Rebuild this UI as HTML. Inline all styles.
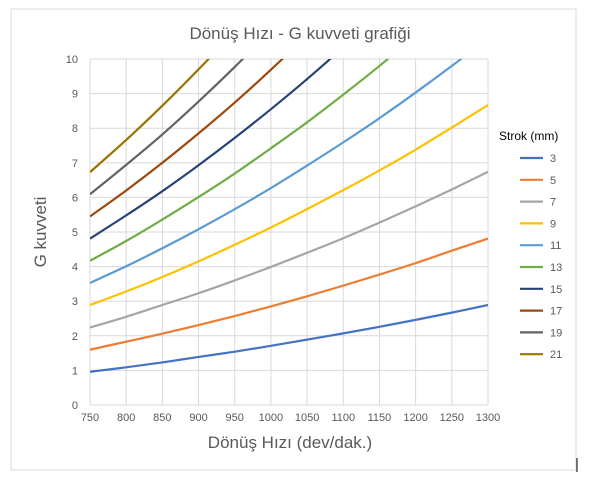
<!DOCTYPE html>
<html><head><meta charset="utf-8"><style>
body{margin:0;background:#fff;font-family:"Liberation Sans",sans-serif}
svg text{font-family:"Liberation Sans",sans-serif}
</style></head><body>
<svg id="chart" width="602" height="478">
<rect x="11" y="9" width="565" height="461" fill="#fff" stroke="#d9d9d9"/>
<line x1="577" y1="458" x2="577" y2="472" stroke="#000" stroke-width="1"/>
<text x="300" y="39" text-anchor="middle" font-size="17" fill="#595959">Dönüş Hızı - G kuvveti grafiği</text>
<text transform="translate(46,232) rotate(-90)" text-anchor="middle" font-size="17" fill="#595959">G kuvveti</text>
<text x="290" y="448" text-anchor="middle" font-size="17" fill="#595959">Dönüş Hızı (dev/dak.)</text>
<text x="499" y="140" font-size="12" fill="#000">Strok (mm)</text>
<defs><clipPath id="plotclip"><rect x="90" y="59" width="398" height="346"/></clipPath></defs>
<g id="grid"></g><g id="series" clip-path="url(#plotclip)"></g><g id="axes"></g><g id="legend"></g>
</svg>
<script>
const xTicks=[750,800,850,900,950,1000,1050,1100,1150,1200,1250,1300];
const yTicks=[0,1,2,3,4,5,6,7,8,9,10];
const strokes=[3,5,7,9,11,13,15,17,19,21];
const colors=["#4472C4","#ED7D31","#A5A5A5","#FFC000","#5B9BD5","#70AD47","#264478","#9E480E","#636363","#997300"];
const g3=[0.96,1.09,1.23,1.39,1.54,1.71,1.89,2.07,2.26,2.46,2.67,2.89];
const g5=[1.60,1.83,2.06,2.31,2.57,2.85,3.14,3.45,3.77,4.10,4.46,4.81];
const g7=[2.24,2.55,2.89,3.23,3.60,3.99,4.40,4.82,5.27,5.74,6.23,6.74];
const g9=[2.89,3.28,3.70,4.15,4.63,5.13,5.66,6.21,6.78,7.38,8.02,8.67];
const g11=[3.53,4.01,4.53,5.08,5.66,6.27,6.92,7.59,8.29,9.03,9.80,10.60];
const g13=[4.17,4.74,5.36,6.01,6.69,7.42,8.17,8.97,9.80,10.67,11.58,12.53];
const g15=[4.81,5.48,6.18,6.93,7.72,8.55,9.42,10.34,11.31,12.31,13.36,14.45];
const g17=[5.45,6.20,7.00,7.85,8.74,9.69,10.69,11.73,12.81,13.95,15.15,16.38];
const g19=[6.09,6.94,7.82,8.77,9.77,10.83,11.94,13.11,14.32,15.60,16.92,18.31];
const g21=[6.73,7.66,8.65,9.70,10.80,11.97,13.20,14.48,15.83,17.24,18.71,20.23];
const seriesData=[g3,g5,g7,g9,g11,g13,g15,g17,g19,g21];
const NS="http://www.w3.org/2000/svg";
const X0=90,X1=488,Y0=405,Y1=59;
const xs=v=>X0+(v-750)/(1300-750)*(X1-X0);
const ys=v=>Y0-(v/10)*(Y0-Y1);
function mk(t,a,p){const e=document.createElementNS(NS,t);for(const k in a)e.setAttribute(k,a[k]);p.appendChild(e);return e;}
const grid=document.getElementById('grid'),axes=document.getElementById('axes'),ser=document.getElementById('series'),leg=document.getElementById('legend');
xTicks.forEach(t=>{
 const l=mk('line',{x1:xs(t),x2:xs(t),y1:Y1,y2:Y0,stroke:'#d9d9d9'},grid);
 
 
 const tx=mk('text',{x:xs(t),y:Y0+16,'text-anchor':'middle','font-size':'11',fill:'#595959'},axes);tx.textContent=t;
 
 
});
yTicks.forEach(t=>{
 const l=mk('line',{x1:X0,x2:X1,y1:ys(t),y2:ys(t),stroke:'#d9d9d9'},grid);
 
 
 const tx=mk('text',{x:X0-12,y:ys(t)+4,'text-anchor':'end','font-size':'11',fill:'#595959'},axes);tx.textContent=t;
 
 
});
function smooth(pts){let d='M'+pts[0][0]+','+pts[0][1];for(let i=0;i<pts.length-1;i++){const p0=pts[i-1]||pts[i],p1=pts[i],p2=pts[i+1],p3=pts[i+2]||p2;
 d+=' C'+(p1[0]+(p2[0]-p0[0])/6)+','+(p1[1]+(p2[1]-p0[1])/6)+' '+(p2[0]-(p3[0]-p1[0])/6)+','+(p2[1]-(p3[1]-p1[1])/6)+' '+p2[0]+','+p2[1];}return d;}
seriesData.forEach((arr,i)=>{
 const pts=arr.map((v,j)=>[xs(xTicks[j]),ys(v)]);
 const p=mk('path',{d:smooth(pts),fill:'none',stroke:colors[i],'stroke-width':'2.2'},ser);
 
 
 const ly=158+i*21.8;
 const ll=mk('line',{x1:520,x2:543,y1:ly,y2:ly,stroke:colors[i],'stroke-width':'2.2'},leg);
 
 
 const lt=mk('text',{x:550,y:ly+4,'font-size':'11',fill:'#595959'},leg);lt.textContent=strokes[i];
 
 
});
</script>
</body></html>
